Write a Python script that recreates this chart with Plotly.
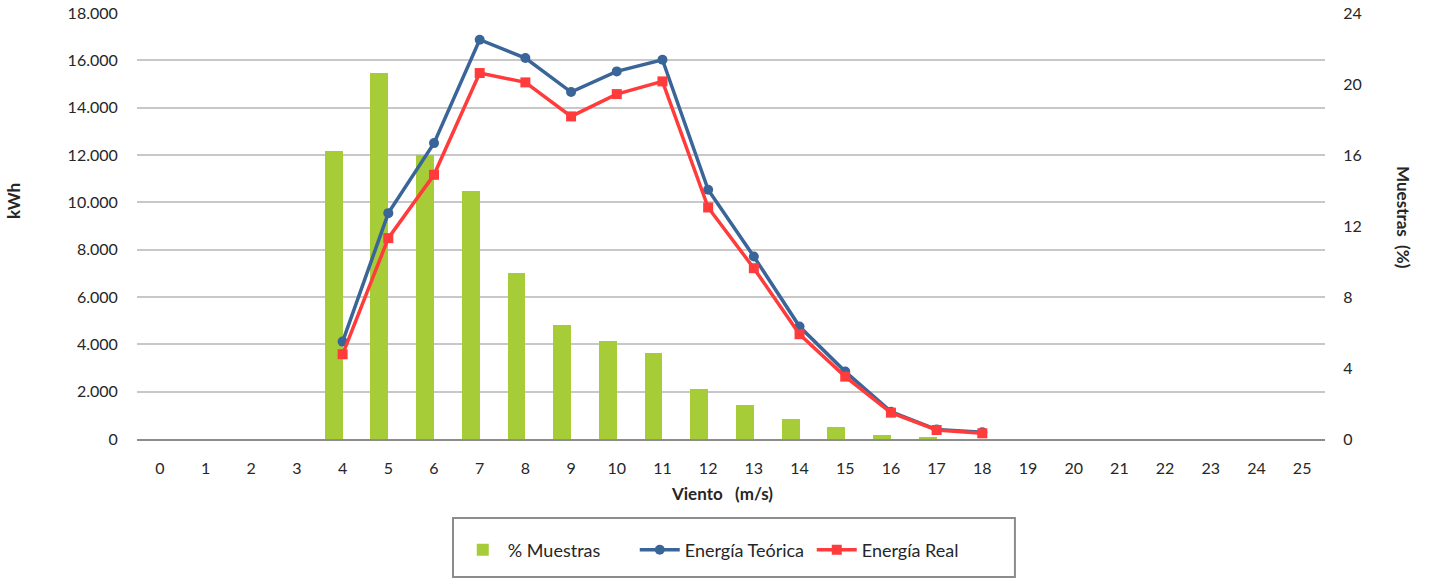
import plotly.graph_objects as go

# Wind speed bins (m/s)
viento = list(range(0, 26))

# Share of samples per wind bin (%)
muestras_pct = [0, 0, 0, 0, 16.24, 20.64, 16.01, 13.98, 9.36, 6.43, 5.53, 4.85,
                2.82, 1.92, 1.13, 0.68, 0.23, 0.08, 0, 0, 0, 0, 0, 0, 0, 0]

# Energy per bin (kWh), bins 4..18
viento_energia = list(range(4, 19))
energia_teorica = [4115, 9543, 12502, 16872, 16097, 14659, 15533, 16026,
                   10529, 7710, 4750, 2847, 1155, 400, 282]
energia_real = [3580, 8486, 11163, 15463, 15068, 13630, 14574, 15110,
                9782, 7217, 4426, 2636, 1113, 381, 240]

FONT = "Lato"
TXT = "#262626"
GREEN = "#A6CC38"
BLUE = "#3A6598"
RED = "#FF3B3B"

fig = go.Figure()

fig.add_trace(go.Bar(
    x=viento, y=muestras_pct, name="% Muestras",
    marker=dict(color=GREEN, line=dict(width=0)),
    width=0.39, offset=-0.39, yaxis="y",
))
fig.add_trace(go.Scatter(
    x=viento_energia, y=energia_teorica, name="Energía Teórica",
    mode="lines+markers", yaxis="y2",
    line=dict(color=BLUE, width=3.5),
    marker=dict(symbol="circle", size=10, color=BLUE),
))
fig.add_trace(go.Scatter(
    x=viento_energia, y=energia_real, name="Energía Real",
    mode="lines+markers", yaxis="y2",
    line=dict(color=RED, width=3.5),
    marker=dict(symbol="square", size=10, color=RED),
))

fig.update_layout(
    width=1430, height=580,
    margin=dict(l=137, r=105, t=13, b=141, autoexpand=False),
    paper_bgcolor="white", plot_bgcolor="white",
    separators=",.",
    font=dict(family=FONT, size=16, color=TXT),
    bargap=0,
    xaxis=dict(
        range=[-0.5, 25.5], tickmode="array", tickvals=viento,
        ticktext=[str(v) for v in viento],
        showgrid=False, zeroline=False, automargin=False,
        showline=True, linecolor="#8C8C8C", linewidth=2,
        ticks="outside", ticklen=14, tickcolor="rgba(0,0,0,0)",
        tickfont=dict(size=16, color=TXT),
    ),
    yaxis=dict(
        side="right", range=[0, 24], tickvals=[0, 4, 8, 12, 16, 20, 24],
        showgrid=False, zeroline=False, showline=False, automargin=False,
        ticks="outside", ticklen=14, tickcolor="rgba(0,0,0,0)",
        tickfont=dict(size=16, color=TXT),
    ),
    yaxis2=dict(
        side="left", overlaying="y", range=[0, 18000], dtick=2000,
        tickformat=",d", automargin=False,
        showgrid=True, gridcolor="#C8C8C8", gridwidth=2,
        zeroline=False, showline=False,
        ticks="outside", ticklen=15, tickcolor="rgba(0,0,0,0)",
        tickfont=dict(size=16, color=TXT),
    ),
    legend=dict(
        orientation="h", x=0.270, xanchor="left", y=-0.2606, yanchor="middle",
        borderwidth=0, bgcolor="rgba(0,0,0,0)",
        font=dict(size=18, color=TXT), entrywidth=122, traceorder="normal",
        itemwidth=40,
    ),
    shapes=[
        # frame around the legend
        dict(type="rect", xref="paper", yref="paper",
             x0=0.266, x1=0.739, y0=-0.324, y1=-0.1854,
             line=dict(color="#8C8C8C", width=2), fillcolor="rgba(0,0,0,0)",
             layer="below"),
    ],
    annotations=[
        dict(text="<b>Viento   (m/s)</b>", xref="paper", yref="paper",
             x=0.4925, y=-0.128, xanchor="center", yanchor="middle",
             showarrow=False, font=dict(size=17, color=TXT)),
        dict(text="<b>kWh</b>", xref="paper", yref="paper",
             x=-0.1035, y=0.559, textangle=-90, xanchor="center", yanchor="middle",
             showarrow=False, font=dict(size=17, color=TXT)),
        dict(text="<b>Muestras  (%)</b>", xref="paper", yref="paper",
             x=1.0655, y=0.519, textangle=90, xanchor="center", yanchor="middle",
             showarrow=False, font=dict(size=17, color=TXT)),
    ],
)

fig.write_html("out.html")
